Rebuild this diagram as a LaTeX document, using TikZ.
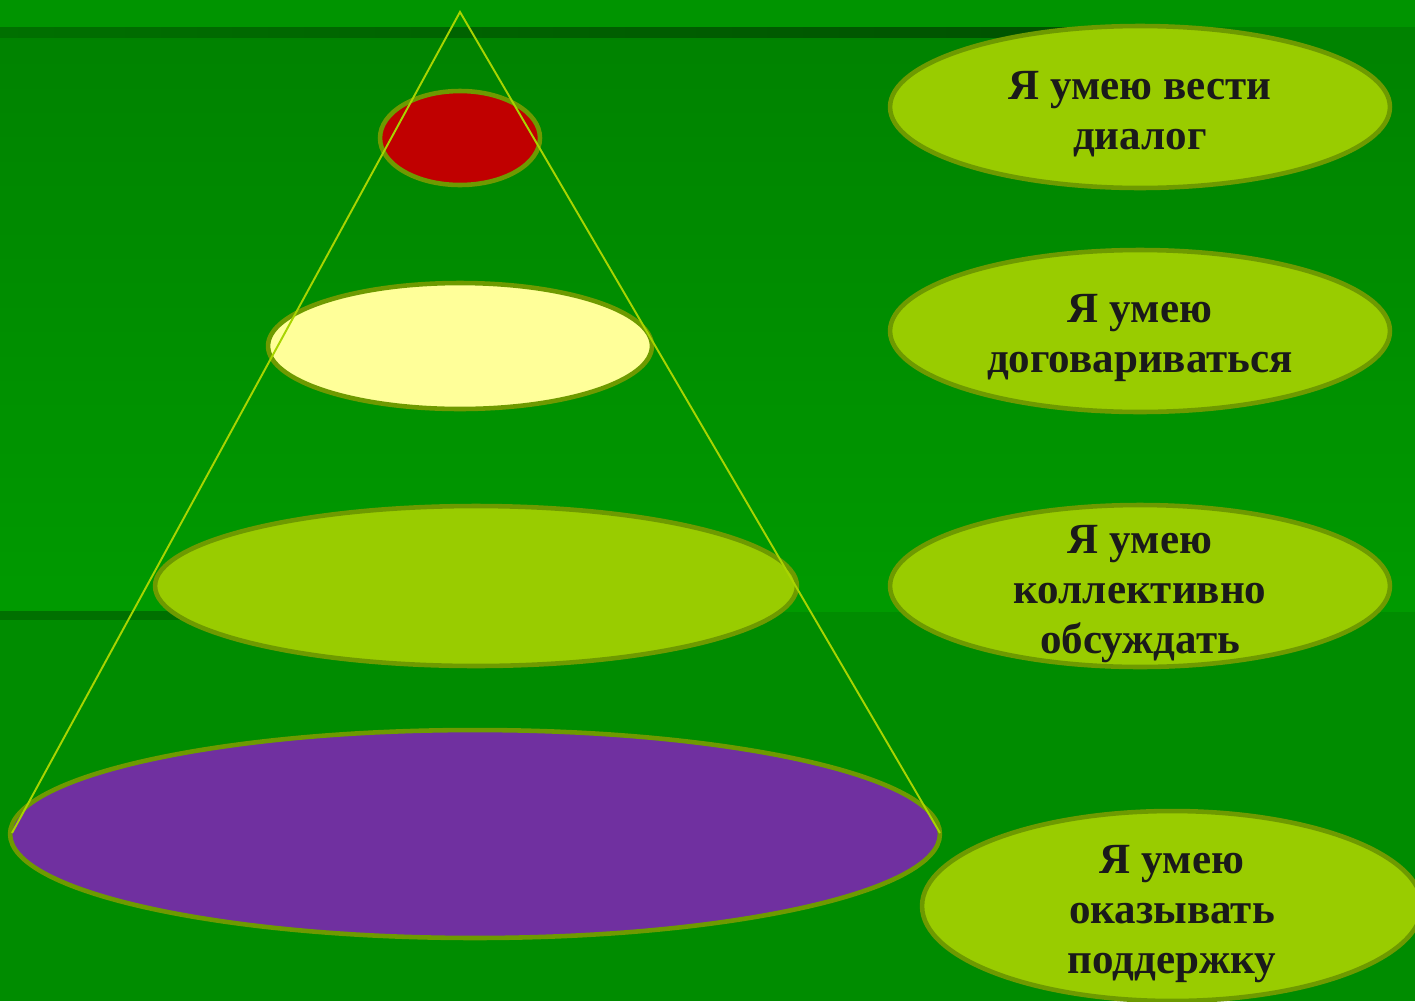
\documentclass[tikz,border=0pt]{standalone}
\usepackage{fontspec}
\setmainfont{Liberation Serif}
\usetikzlibrary{shapes.geometric}
\definecolor{bgtop}{HTML}{009400}
\definecolor{bgmidtop}{HTML}{008200}
\definecolor{bgmidbot}{HTML}{009A00}
\definecolor{bgbot}{HTML}{008C00}
\definecolor{bandL}{HTML}{007000}
\definecolor{bandR}{HTML}{005200}
\definecolor{olive}{HTML}{6E9A00}
\definecolor{lime}{HTML}{99CC00}
\definecolor{conecol}{HTML}{A8D400}
\definecolor{redfill}{HTML}{C00000}
\definecolor{yelfill}{HTML}{FFFF99}
\definecolor{purfill}{HTML}{7030A0}
\definecolor{txt}{HTML}{1A1A1A}
\tikzset{
  disc/.style={ellipse, draw=olive, line width=2.6pt, inner sep=0pt},
  bubble/.style={disc, fill=lime},
  say/.style={text=txt, font=\bfseries\fontsize{24.5}{28.4}\selectfont, align=center, inner sep=0pt},
  coneline/.style={draw=conecol, line width=1.1pt}
}
\begin{document}
\begin{tikzpicture}[x=0.02cm, y=-0.02cm]
\useasboundingbox (0,0) rectangle (1415,1001);
\clip (0,0) rectangle (1415,1001);
% background
\fill[bgtop] (0,0) rectangle (1415,27);
\shade[top color=bgmidtop, bottom color=bgmidbot] (0,27) rectangle (1415,612);
\fill[bgbot] (0,612) rectangle (1415,1001);
\shade[left color=bandL, right color=bandR] (0,27) rectangle (1070,37);
\fill[bandR] (1070,27) rectangle (1110,37);
\fill[bandL] (0,611) rectangle (480,620);
% pyramid discs
\node[disc, fill=redfill, minimum width=3.2cm, minimum height=1.88cm] (d1) at (460,138) {};
\node[disc, fill=yelfill, minimum width=7.68cm, minimum height=2.52cm] (d2) at (460,346) {};
\node[disc, fill=lime, minimum width=12.84cm, minimum height=3.2cm] (d3) at (476,586) {};
\node[disc, fill=purfill, minimum width=18.6cm, minimum height=4.16cm] (d4) at (475,834) {};
% cone
\coordinate (apex) at (460,12);
\coordinate (baseL) at (12,833);
\coordinate (baseR) at (940,833);
\draw[coneline] (baseL) -- (apex) -- (baseR);
% right bubbles
\node[bubble, minimum width=10cm, minimum height=3.24cm] (b1) at (1140,107) {};
\node[say] (t1) at (1140,114) {Я умею вести\\диалог};
\node[bubble, minimum width=10cm, minimum height=3.24cm] (b2) at (1140,331) {};
\node[say] (t2) at (1140,338) {Я умею\\договариваться};
\node[bubble, minimum width=10cm, minimum height=3.24cm] (b3) at (1140,586) {};
\node[say] (t3) at (1140,594) {Я умею\\коллективно\\обсуждать};
\node[bubble, minimum width=10cm, minimum height=3.8cm] (b4) at (1172,906) {};
\node[say] (t4) at (1172,914) {Я умею\\оказывать\\поддержку};
\end{tikzpicture}
\end{document}
